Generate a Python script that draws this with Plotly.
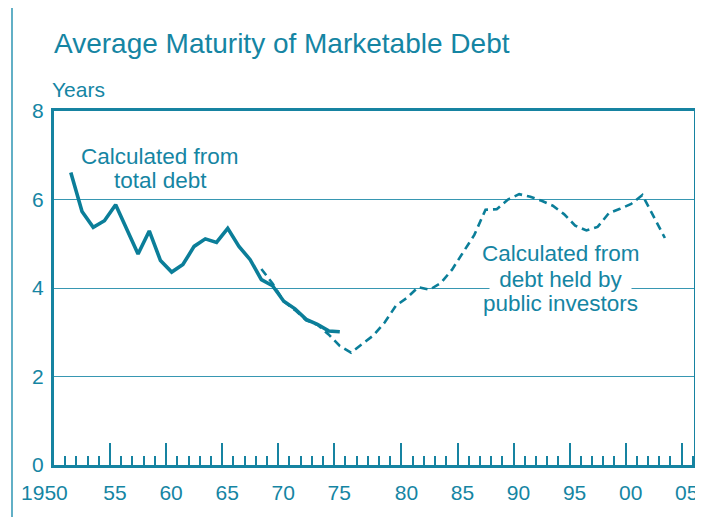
import plotly.graph_objects as go

# ---------------- data ----------------
# fiscal periods along the x axis (FY1976 transition quarter takes its own slot)
periods = [str(y) for y in range(1950, 1977)] + ["TQ"] + [str(y) for y in range(1977, 2006)]

major_years = ["1950", "1955", "1960", "1965", "1970", "1975", "1980", "1985",
               "1990", "1995", "2000", "2005"]
major_labels = ["1950\u00a0\u00a0\u00a0\u00a0\u00a0", "55", "60", "65", "70", "75", "80", "85",
                "90", "95", "00", "05"]

total_years = list(range(1951, 1976))
total_vals = [6.61, 5.73, 5.37, 5.52, 5.88, 5.32, 4.77, 5.29, 4.62, 4.36,
              4.53, 4.94, 5.11, 5.03, 5.35, 4.94, 4.64, 4.19, 4.05, 3.70,
              3.53, 3.29, 3.18, 3.03, 3.01]

public_years = list(range(1968, 2004))
public_vals = [4.43, 4.10, 3.70, 3.50, 3.27, 3.17, 2.95, 2.69, 2.54, 2.93,
               3.22, 3.60, 3.78, 4.02, 3.96, 4.11, 4.41, 4.80, 5.20, 5.77,
               5.78, 6.00, 6.12, 6.06, 5.97, 5.86, 5.67, 5.41, 5.30, 5.38,
               5.69, 5.79, 5.90, 6.10, 5.62, 5.13]

y_ticks = [0, 2, 4, 6, 8]

# ---------------- helpers ----------------
def pos(label):
    return periods.index(str(label))

def mid(year):
    # annual values are plotted at the middle of their period
    return pos(year) + 0.5

TEXT = "#1585a3"
LINE = "#0b7e99"
FRAME = "#1683a1"
GRID = "#3797b2"
FONT = "Liberation Sans, Arial, Helvetica, sans-serif"

# the page body adds an 8px offset, so the figure is 8px smaller than the window
W, H = 695, 509
ML, MR, MT, MB = 46, 9, 103, 52
PW = W - ML - MR
PH = H - MT - MB

fig = go.Figure()

fig.add_trace(go.Scatter(
    x=[mid(y) for y in public_years], y=public_vals,
    mode="lines", line=dict(color=LINE, width=2.6, dash="8px,5px"),
    hoverinfo="skip", showlegend=False))

fig.add_trace(go.Scatter(
    x=[mid(y) for y in total_years], y=total_vals,
    mode="lines", line=dict(color=LINE, width=3.6),
    hoverinfo="skip", showlegend=False))

fig.update_layout(
    width=W, height=H,
    margin=dict(l=ML, r=MR, t=MT, b=MB, autoexpand=False),
    paper_bgcolor="white", plot_bgcolor="white",
    font=dict(family=FONT, color=TEXT, size=21),
    title=dict(text="Average Maturity of Marketable Debt",
               font=dict(size=28, color=TEXT, family=FONT),
               x=46 / W, xanchor="left", xref="container",
               y=1 - 35 / H, yanchor="middle", yref="container",
               automargin=False),
    xaxis=dict(
        type="linear", range=[0, 57.1], automargin=False,
        tickmode="array",
        tickvals=[pos(y) for y in major_years],
        ticktext=major_labels,
        ticks="inside", ticklen=22, tickwidth=1.5, tickcolor=FRAME,
        minor=dict(ticks="inside", ticklen=9, tickwidth=1.5, tickcolor=FRAME,
                   tick0=0, dtick=1, showgrid=False),
        showline=True, linecolor=FRAME, linewidth=3, mirror=True,
        showgrid=False, zeroline=False,
        ticklabelshift=5, ticklabelstandoff=7, ticklabeloverflow="allow",
        tickfont=dict(size=21, color=TEXT),
    ),
    yaxis=dict(
        range=[0, 8], tickmode="array", tickvals=y_ticks, automargin=False,
        ticks="", showline=True, linecolor=FRAME, linewidth=3, mirror=True,
        showgrid=True, gridcolor=GRID, gridwidth=1.3, zeroline=False,
        tickfont=dict(size=21, color=TEXT), ticklabelstandoff=3,
    ),
    shapes=[dict(type="line", xref="paper", yref="paper",
                 x0=(4 - ML) / PW, x1=(4 - ML) / PW, y0=-1, y1=2,
                 line=dict(color="#3a9cb8", width=1.6))],
)

annots = [
    dict(text="Years", xref="paper", yref="paper", x=-0.006, y=(PH + 1 - (89 - 111)) / PH - 0.003,
         xanchor="left", yanchor="middle", font=dict(size=21)),
    dict(text="Calculated from", x=9.46, y=6.97),
    dict(text="total debt", x=9.46, y=6.42),
    dict(text="Calculated from", x=45.2, y=4.78),
    dict(text="\u00a0debt held by\u00a0", x=45.2, y=4.20, bgcolor="white", borderpad=3),
    dict(text="public investors", x=45.2, y=3.64),
]
for a in annots:
    base = dict(showarrow=False, xanchor="center", yanchor="middle",
                font=dict(size=22.5, color=TEXT, family=FONT))
    base.update(a)
    if "font" in a:
        base["font"] = dict(size=a["font"]["size"], color=TEXT, family=FONT)
    fig.add_annotation(**base)

fig.write_html("out.html")
